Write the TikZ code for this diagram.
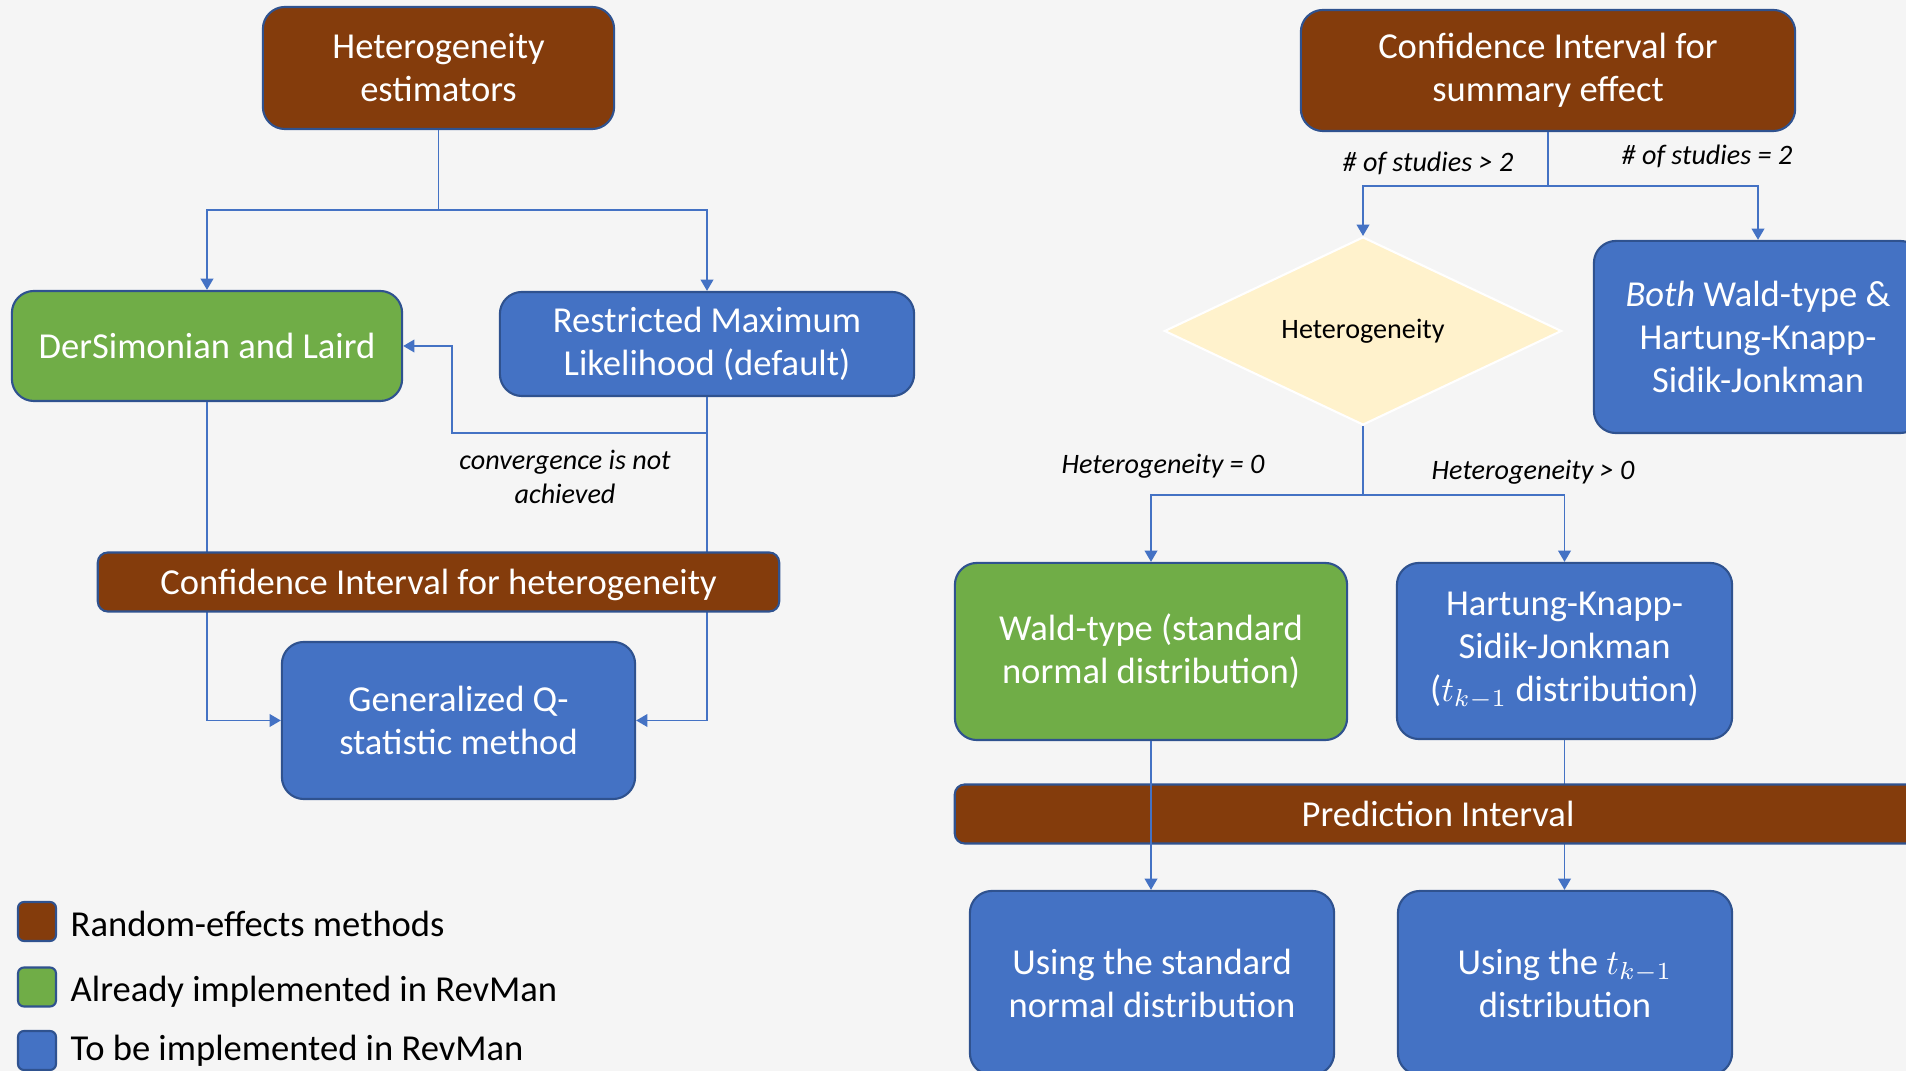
\documentclass[tikz,border=0pt]{standalone}
\usepackage{fontspec}
\setmainfont{Carlito}
\usetikzlibrary{arrows.meta,shapes.geometric}
\definecolor{rebrown}{HTML}{843C0C}
\definecolor{okgreen}{HTML}{70AD47}
\definecolor{todoblue}{HTML}{4472C4}
\definecolor{edgeblue}{HTML}{2F528F}
\definecolor{pagegray}{HTML}{F5F5F5}
\definecolor{decision}{HTML}{FFF2CC}
\tikzset{>={Triangle[width=3.6pt,length=3.2pt]},
  every node/.style={font=\fontsize{10.4}{12.2}\selectfont},
  box/.style={draw=edgeblue,line width=.6pt,rounded corners=.22cm,text=white,align=center,inner sep=0pt},
  rebox/.style={box,fill=rebrown},
  donebox/.style={box,fill=okgreen},
  todobox/.style={box,fill=todoblue},
  bar/.style={box,fill=rebrown,rounded corners=.1cm,minimum height=.59cm,text depth=0pt},
  link/.style={draw=todoblue,line width=.5pt},
  cond/.style={font=\fontsize{8}{9.7}\selectfont\itshape,align=center},
  swatch/.style={draw=edgeblue,line width=.6pt,rounded corners=.06cm,minimum width=.38cm,minimum height=.39cm,inner sep=0pt},
  legendtext/.style={anchor=west,inner sep=0pt}}
\begin{document}
\begin{tikzpicture}[x=.01cm,y=-.01cm]
\fill[pagegray] (0,0) rectangle (1906,1071);
\useasboundingbox (0,0) rectangle (1906,1071);
\clip (0,0) rectangle (1906,1071);
\node[rebox,minimum width=3.51cm,minimum height=1.22cm] (hetEst) at (438.5,68) {Heterogeneity\\estimators};
\node[donebox,minimum width=3.9cm,minimum height=1.1cm] (dsl) at (207,346) {DerSimonian and Laird};
\node[todobox,minimum width=4.14cm,minimum height=1.04cm] (reml) at (707,344) {Restricted Maximum\\Likelihood (default)};
\node[todobox,minimum width=3.53cm,minimum height=1.57cm] (genQ) at (458.5,720.5) {Generalized Q-\\statistic method};
\coordinate (splitL) at (438.5,210);\coordinate (retry) at (452,433);
\draw[link,->] (hetEst.south) -- (splitL) -| (dsl.north);
\draw[link,->] (splitL) -| (reml.north);
\draw[link,->] (reml.south) |- (retry) |- (dsl.east);
\draw[link,->] (dsl.south) |- (genQ.west);
\draw[link,->] (reml.south) |- (genQ.east);
\node[bar,minimum width=6.81cm] (ciHet) at (438.5,582) {Confidence Interval for heterogeneity};
\node[cond] (noConv) at (565,477) {convergence is not\\achieved};
\node[rebox,minimum width=4.94cm,minimum height=1.21cm] (ciSum) at (1548,70.5) {Confidence Interval for\\summary effect};
\node[diamond,fill=decision,draw=white,line width=.6pt,minimum width=3.97cm,minimum height=1.88cm,inner sep=0pt,font=\fontsize{8}{9.7}\selectfont] (hetDia) at (1363,331) {Heterogeneity};
\node[todobox,minimum width=3.28cm,minimum height=1.92cm] (both) at (1758,337) {\textit{Both} Wald-type \&\\Hartung-Knapp-\\Sidik-Jonkman};
\coordinate (splitR) at (1548,186);
\draw[link,->] (ciSum.south) -- (splitR) -| (hetDia.north);
\draw[link,->] (splitR) -| (both.north);
\node[cond] (gtTwo) at (1428,163) {\# of studies > 2};
\node[cond] (eqTwo) at (1707,156) {\# of studies = 2};
\node[donebox,minimum width=3.92cm,minimum height=1.77cm] (wald) at (1151,651.5) {Wald-type (standard\\normal distribution)};
\node[todobox,minimum width=3.35cm,minimum height=1.76cm] (hksj) at (1564.5,651) {Hartung-Knapp-\\Sidik-Jonkman\\($t_{k-1}$ distribution)};
\coordinate (splitH) at (1363,495);
\draw[link] (hetDia.south) -- (splitH);
\draw[link,->] (splitH) -| (wald.north);
\draw[link,->] (splitH) -| (hksj.north);
\node[cond] (zeroHet) at (1163,466) {Heterogeneity = 0};
\node[cond] (posHet) at (1533,472) {Heterogeneity > 0};
\node[todobox,minimum width=3.64cm,minimum height=1.84cm] (useStd) at (1152,983) {Using the standard\\normal distribution};
\node[todobox,minimum width=3.34cm,minimum height=1.84cm] (useT) at (1565,983) {Using the $t_{k-1}$\\distribution};
\draw[link,->] (hksj.south) -- (hksj.south |- useT.north);
\node[bar,minimum width=9.66cm] (predBar) at (1438,814) {Prediction Interval};
\draw[link,->] (wald.south) -- (wald.south |- useStd.north);
\node[swatch,fill=rebrown] (keyRe) at (37,921.5) {};
\node[swatch,fill=okgreen] (keyDone) at (37,987) {};
\node[swatch,fill=todoblue] (keyTodo) at (37,1050.5) {};
\node[legendtext] (keyReText) at (70,924) {Random-effects methods};
\node[legendtext] (keyDoneText) at (70,992) {Already implemented in RevMan};
\node[legendtext] (keyTodoText) at (70,1051) {To be implemented in RevMan};
\end{tikzpicture}
\end{document}
